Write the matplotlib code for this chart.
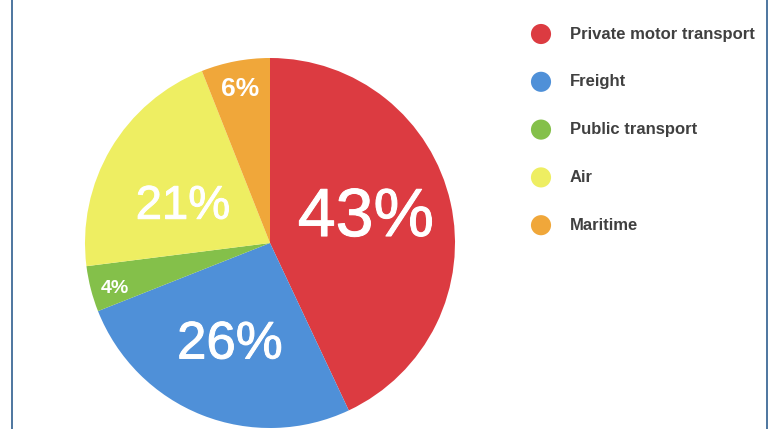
import numpy as np
import matplotlib
matplotlib.use("Agg")
import matplotlib.pyplot as plt
import matplotlib.patheffects as pe

categories = ["Private motor transport", "Freight", "Public transport", "Air", "Maritime"]
shares = [43, 26, 4, 21, 6]
colors = ["#dc3b41", "#4f90d8", "#84c04a", "#eeee62", "#f0a73a"]

# per-label radial distance, angle nudge (deg), font size, weight
label_dist = [0.535, 0.59, 0.875, 0.51, 0.85]
label_nudge = [2, 0, 2, 8, 0]
label_size = [49, 38, 14, 34, 19]
label_weight = ["normal", "normal", "bold", "normal", "bold"]

W, H = 773, 429
fig = plt.figure(figsize=(W / 100, H / 100), dpi=100)
fig.patch.set_facecolor("white")

cx, cy, r = 270, 243, 185
ax = fig.add_axes([(cx - r) / W, (H - cy - r) / H, 2 * r / W, 2 * r / H])
wedges, _ = ax.pie(shares, colors=colors, startangle=90, counterclock=False,
                   radius=1, wedgeprops=dict(linewidth=0))
ax.set_xlim(-1, 1)
ax.set_ylim(-1, 1)
ax.set_aspect("equal")
ax.axis("off")

for w, v, d, n, s, fw in zip(wedges, shares, label_dist, label_nudge, label_size, label_weight):
    ang = np.deg2rad((w.theta1 + w.theta2) / 2 + n)
    t = ax.text(d * np.cos(ang), d * np.sin(ang), f"{v}%", ha="center", va="center",
                color="white", fontsize=s, fontweight=fw, family="Liberation Sans")
    if fw == "normal":
        # scanned labels look a bit heavier than regular weight
        t.set_path_effects([pe.withStroke(linewidth=0.7, foreground="white")])

# legend + frame in pixel coords
lax = fig.add_axes([0, 0, 1, 1], zorder=-1)
lax.set_xlim(0, W)
lax.set_ylim(H, 0)
lax.axis("off")
lax.axvline(12, color="#2f5f8f", lw=1.2)
lax.axvline(767, color="#2f5f8f", lw=1.2)

for i, (name, c) in enumerate(zip(categories, colors)):
    y = 34 + 47.8 * i
    lax.scatter([541], [y], s=210, color=c, edgecolors="none")
    lax.text(570, y, name, ha="left", va="center", fontsize=12, fontweight="bold",
             color="#404040", family="Liberation Sans")

fig.savefig("out.png", dpi=100)
